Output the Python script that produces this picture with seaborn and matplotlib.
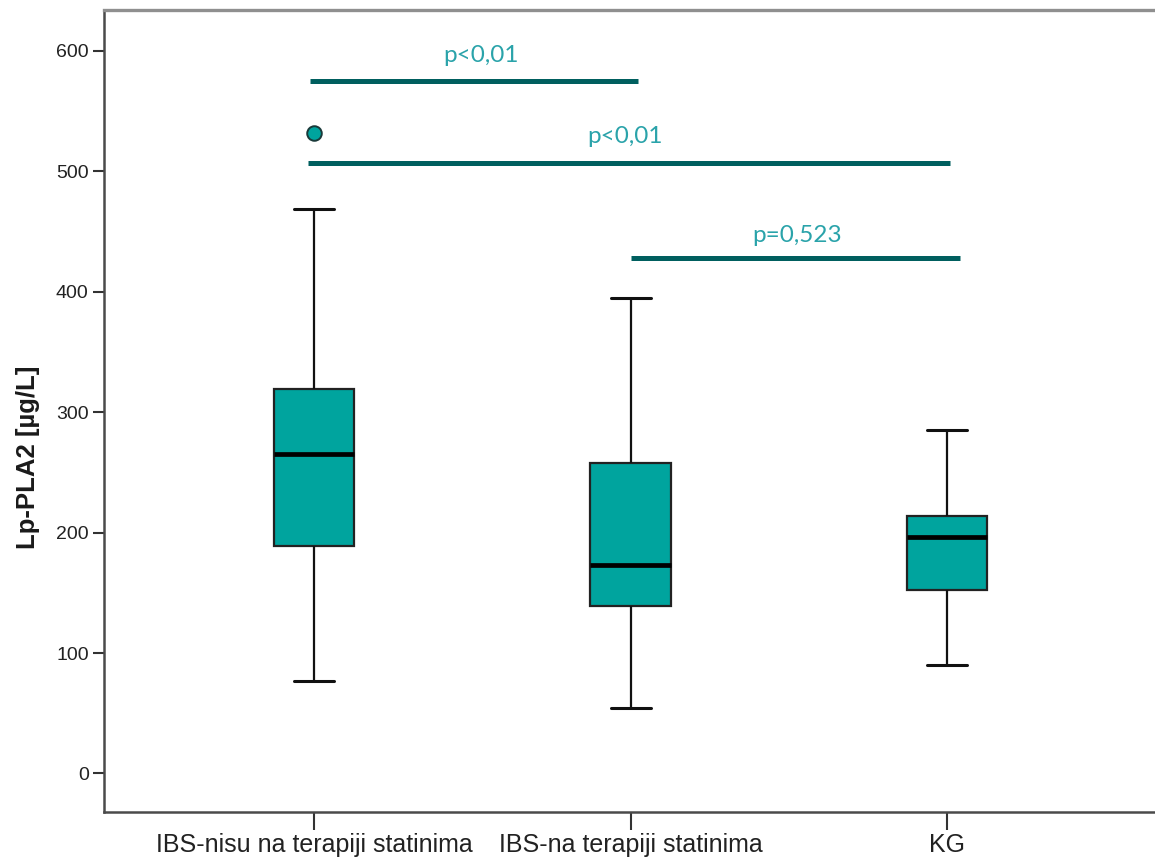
import numpy as np
import pandas as pd
import matplotlib
matplotlib.use("Agg")
import matplotlib.pyplot as plt
import seaborn as sns

# Group names on the x axis
groups = ["IBS-nisu na terapiji statinima", "IBS-na terapiji statinima", "KG"]

# Five-number summaries (lower whisker, Q1, median, Q3, upper whisker), µg/L
whisker_low = [77, 54, 90]
q1 = [189, 139, 152]
median = [265, 173, 196]
q3 = [319, 258, 214]
whisker_high = [469, 395, 285]

# Outlier values per group
outlier_group = ["IBS-nisu na terapiji statinima"]
outlier_value = [532]

# Pairwise comparisons: group a, group b, bracket height, label
cmp_a = [0, 0, 1]
cmp_b = [1, 2, 2]
cmp_height = [575, 507, 428]
cmp_label = ["p<0,01", "p<0,01", "p=0,523"]

yticks = [0, 100, 200, 300, 400, 500, 600]

# Layout of the comparison bars and their labels (data units)
BAR_START_PAD = [-0.013, -0.019, 0.0]
BAR_END_PAD = [0.023, 0.010, 0.041]
LABEL_X = [0.528, 0.982, 1.526]
LABEL_Y = [596, 529, 447]

BOX = "#00A49E"
LINE = "#005F5F"
TEXT = "#2AA3AA"

sns.set_style("white")
plt.rcParams["font.family"] = ["Liberation Sans", "DejaVu Sans"]

rows = []
for g, lo, a, m, b, hi in zip(groups, whisker_low, q1, median, q3, whisker_high):
    for v in (lo, a, m, b, hi):
        rows.append({"group": g, "value": v})
df = pd.DataFrame(rows)

fig = plt.figure(figsize=(11.55, 8.58), dpi=100)
ax = fig.add_axes([104 / 1155, 1 - 812 / 858, 1 - 104 / 1155, (812 - 10) / 858])

sns.boxplot(
    data=df, x="group", y="value", order=groups, ax=ax,
    whis=np.inf, width=0.253, color=BOX, saturation=1,
    boxprops=dict(facecolor=BOX, edgecolor="#222222", linewidth=1.6),
    medianprops=dict(color="black", linewidth=3.4),
    whiskerprops=dict(color="#111111", linewidth=1.6),
    capprops=dict(color="#111111", linewidth=2.2),
    showfliers=False,
)

out_df = pd.DataFrame({"group": outlier_group, "value": outlier_value})
sns.scatterplot(data=out_df, x="group", y="value", ax=ax, s=110,
                color=BOX, edgecolor="#1a3a3a", linewidth=1.4, zorder=5)

# Comparison bars with p-values
for i, (a, b, h, lab) in enumerate(zip(cmp_a, cmp_b, cmp_height, cmp_label)):
    x0 = min(a, b) + BAR_START_PAD[i]
    x1 = max(a, b) + BAR_END_PAD[i]
    ax.plot([x0, x1], [h, h], color=LINE, linewidth=3.6, solid_capstyle="butt", zorder=4)
    ax.text(LABEL_X[i], LABEL_Y[i], lab, ha="center", va="center", color=TEXT,
            fontsize=17.5, family=["Lato", "DejaVu Sans"])

ax.set_xlim(-0.6635, 2.657)
ax.set_ylim(-32, 634)
ax.set_yticks(yticks)
ax.set_yticklabels([str(t) for t in yticks])
ax.set_xlabel("")
ax.set_ylabel("Lp-PLA2 [µg/L]", fontsize=18.5, fontweight="bold", color="#1a1a1a")
ax.yaxis.set_label_coords(-0.0609, 0.4426)

ax.tick_params(axis="y", direction="out", length=8, width=1.5, color="#333333",
               labelsize=14, labelcolor="#222222", pad=3, left=True)
ax.tick_params(axis="x", direction="out", length=13, width=1.5, color="#333333",
               labelsize=18, labelcolor="#222222", pad=2, bottom=True)

for side in ("left", "bottom"):
    ax.spines[side].set_color("#4a4a4a")
    ax.spines[side].set_linewidth(1.8)
ax.spines["top"].set_color("#8f8f8f")
ax.spines["top"].set_linewidth(2.4)
ax.spines["right"].set_visible(False)

fig.savefig("out.png", dpi=100)
